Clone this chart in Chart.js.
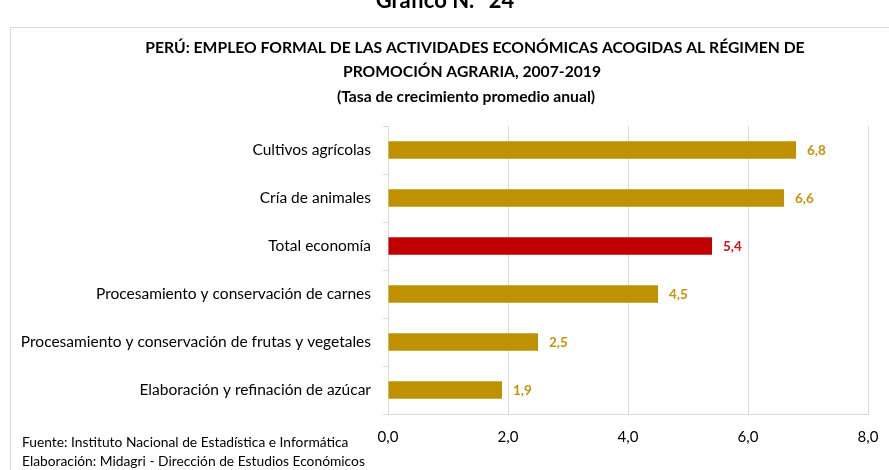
<!DOCTYPE html>
<html>
<head>
<meta charset="utf-8">
<script src="https://cdn.jsdelivr.net/npm/chart.js@4/dist/chart.umd.min.js"></script>
<style>
  html, body { margin: 0; padding: 0; background: #fff; }
  #wrap { width: 889px; height: 470px; }
</style>
</head>
<body>
<div id="wrap"><canvas id="chart" width="889" height="470"></canvas></div>
<script>
const categories = [
  'Cultivos agrícolas',
  'Cría de animales',
  'Total economía',
  'Procesamiento y conservación de carnes',
  'Procesamiento y conservación de frutas y vegetales',
  'Elaboración y refinación de azúcar'
];
const growthRates = [6.8, 6.6, 5.4, 4.5, 2.5, 1.9];
const barColors = ['#BF9000', '#BF9000', '#C00000', '#BF9000', '#BF9000', '#BF9000'];
const labelColors = ['#C4940A', '#C4940A', '#D0101A', '#C4940A', '#C4940A', '#C4940A'];
const xTicks = [0, 2, 4, 6, 8];

const titleLines = [
  'PERÚ: EMPLEO FORMAL DE LAS ACTIVIDADES ECONÓMICAS ACOGIDAS AL RÉGIMEN DE',
  'PROMOCIÓN AGRARIA, 2007-2019',
  '(Tasa de crecimiento promedio anual)'
];
const footLines = [
  'Fuente: Instituto Nacional de Estadística e Informática',
  'Elaboración: Midagri - Dirección de Estudios Económicos'
];

const fmt = v => v.toFixed(1).replace('.', ',');
const FONT = 'Lato, "Open Sans", sans-serif';

// frame, titles and footer text
const decorPlugin = {
  id: 'decor',
  beforeDraw(chart) {
    const ctx = chart.ctx;
    ctx.save();
    ctx.strokeStyle = '#d9d9d9';
    ctx.lineWidth = 1;
    ctx.strokeRect(10.5, 27.5, 1000, 1000);

    ctx.fillStyle = '#000';
    ctx.textAlign = 'center';
    ctx.textBaseline = 'alphabetic';
    ctx.font = 'bold 22px ' + FONT;
    ctx.fillText('Gráfico N.° 24', 445, 8);

    ctx.font = 'bold 15.7px ' + FONT;
    ctx.fillText(titleLines[0], 475, 53);
    ctx.fillText(titleLines[1], 472, 77);
    ctx.fillText(titleLines[2], 466, 102);

    ctx.textAlign = 'left';
    ctx.font = '13.8px ' + FONT;
    ctx.fillText(footLines[0], 22, 447);
    ctx.fillText(footLines[1], 22, 466);
    ctx.restore();
  },
  afterDatasetsDraw(chart) {
    const ctx = chart.ctx;
    const meta = chart.getDatasetMeta(0);
    ctx.save();
    ctx.font = 'bold 13.5px ' + FONT;
    ctx.textAlign = 'left';
    ctx.textBaseline = 'middle';
    meta.data.forEach((bar, i) => {
      ctx.fillStyle = labelColors[i];
      ctx.fillText(fmt(growthRates[i]), bar.x + 11, bar.y + 1);
    });
    ctx.restore();
  }
};

new Chart(document.getElementById('chart'), {
  type: 'bar',
  data: {
    labels: categories,
    datasets: [{
      data: growthRates,
      backgroundColor: barColors,
      borderWidth: 0,
      barPercentage: 0.36,
      categoryPercentage: 1
    }]
  },
  options: {
    indexAxis: 'y',
    responsive: false,
    animation: false,
    layout: { padding: { top: 126, right: 21, left: 0, bottom: 0 } },
    plugins: {
      legend: { display: false },
      title: { display: false },
      tooltip: { enabled: false }
    },
    scales: {
      x: {
        min: 0,
        max: 8,
        afterBuildTicks: scale => { scale.ticks = xTicks.map(v => ({ value: v })); },
        afterFit: scale => {
          scale.height = 56;
          scale.paddingLeft = 0;
          scale.paddingRight = 0;
        },
        ticks: {
          callback: v => fmt(v),
          color: '#000',
          padding: 14,
          font: { family: FONT, size: 15 }
        },
        grid: { color: '#d9d9d9', tickLength: 0, drawTicks: false },
        border: { display: true, color: '#d9d9d9' }
      },
      y: {
        afterFit: scale => { scale.width = 388; },
        ticks: {
          color: '#000',
          padding: 12,
          font: { family: FONT, size: 15.5 }
        },
        grid: { offset: true, drawOnChartArea: false, tickLength: 5, color: '#d9d9d9' },
        border: { display: true, color: '#d9d9d9' }
      }
    }
  },
  plugins: [decorPlugin]
});
</script>
</body>
</html>
